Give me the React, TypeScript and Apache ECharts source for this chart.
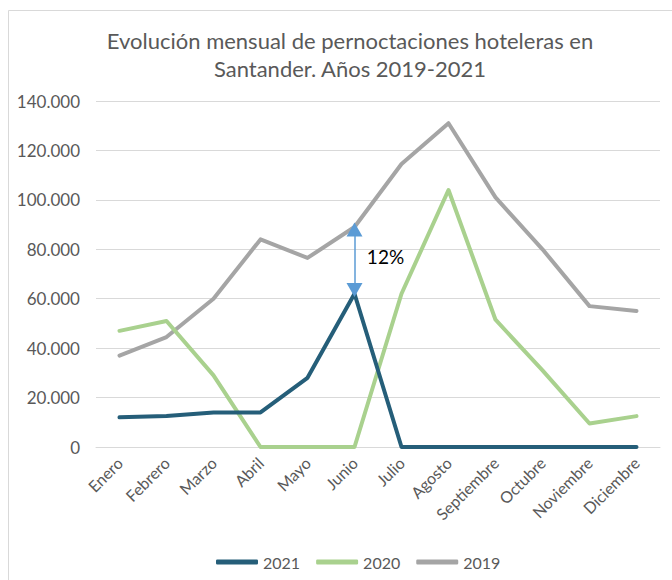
import React, { useEffect, useRef } from "react";
import * as echarts from "echarts";

const months = ["Enero", "Febrero", "Marzo", "Abril", "Mayo", "Junio", "Julio", "Agosto", "Septiembre", "Octubre", "Noviembre", "Diciembre"];
const s2021 = [12000, 12500, 14000, 14000, 28000, 62000, 0, 0, 0, 0, 0, 0];
const s2020 = [47000, 51000, 29000, 0, 0, 0, 62000, 104000, 51500, 31000, 9500, 12500];
const s2019 = [37000, 44500, 60000, 84000, 76500, 89000, 114500, 131000, 101000, 80000, 57000, 55000];
const yTicks = [0, 20000, 40000, 60000, 80000, 100000, 120000, 140000];
const arrowLabel = "12%";
const arrowMonth = "Junio";

const FONT = "Lato, 'Open Sans', sans-serif";
const GREY = "#595959";

function fmt(v: number) {
  return v === 0 ? "0" : String(v).replace(/\B(?=(\d{3})+(?!\d))/g, ".");
}

export default function App() {
  const ref = useRef<HTMLDivElement>(null);
  useEffect(() => {
    if (!ref.current) return;
    const chart = echarts.init(ref.current, null, { renderer: "svg" });
    const idx = months.indexOf(arrowMonth);
    const lo = s2021[idx];
    const hi = s2019[idx];
    chart.setOption({
      animation: false,
      backgroundColor: "#ffffff",
      textStyle: { fontFamily: FONT },
      graphic: [
        {
          type: "rect",
          shape: { x: 8.5, y: 10.5, width: 700, height: 600 },
          style: { fill: "none", stroke: "#D9D9D9", lineWidth: 1 },
          silent: true,
        },
      ],
      title: {
        text: "Evolución mensual de pernoctaciones hoteleras en\nSantander. Años 2019-2021",
        left: 345,
        top: 21,
        textAlign: "center",
        textStyle: { fontFamily: FONT, fontSize: 22, fontWeight: "normal", color: GREY, lineHeight: 28 },
      },
      grid: { left: 96, right: 12, top: 101, bottom: 133, containLabel: false },
      legend: {
        top: 549,
        left: 211,
        itemWidth: 42,
        itemHeight: 5,
        itemGap: 16,
        icon: "roundRect",
        textStyle: { fontFamily: FONT, fontSize: 16, color: GREY },
        data: ["2021", "2020", "2019"],
      },
      xAxis: {
        type: "category",
        data: months,
        boundaryGap: true,
        axisLine: { show: true, lineStyle: { color: "#D9D9D9", width: 1 } },
        axisTick: { show: false },
        axisLabel: { rotate: 45, fontFamily: FONT, fontSize: 16, color: GREY, margin: 13, interval: 0 },
      },
      yAxis: {
        type: "value",
        min: yTicks[0],
        max: yTicks[yTicks.length - 1],
        interval: yTicks[1] - yTicks[0],
        axisLine: { show: false },
        axisTick: { show: false },
        splitLine: { lineStyle: { color: "#D9D9D9", width: 1 } },
        axisLabel: { fontFamily: FONT, fontSize: 17, color: GREY, margin: 16, formatter: (v: number) => fmt(v) },
      },
      series: [
        {
          name: "2019",
          type: "line",
          data: s2019,
          symbol: "none",
          z: 1,
          lineStyle: { color: "#A5A5A5", width: 4, join: "round", cap: "round" },
          itemStyle: { color: "#A5A5A5" },
        },
        {
          name: "2020",
          type: "line",
          data: s2020,
          symbol: "none",
          z: 2,
          lineStyle: { color: "#A9D18E", width: 4, join: "round", cap: "round" },
          itemStyle: { color: "#A9D18E" },
        },
        {
          name: "2021",
          type: "line",
          data: s2021,
          symbol: "none",
          z: 3,
          lineStyle: { color: "#255E79", width: 4, join: "round", cap: "round" },
          itemStyle: { color: "#255E79" },
          markLine: {
            silent: true,
            symbol: ["triangle", "triangle"],
            symbolSize: [16, 14],
            label: { show: false },
            lineStyle: { color: "#5B9BD5", width: 1.5, type: "solid" },
            data: [[{ coord: [arrowMonth, lo + 1500] }, { coord: [arrowMonth, hi - 1000] }]],
          },
          markPoint: {
            silent: true,
            symbol: "circle",
            symbolSize: 0,
            label: {
              show: true,
              formatter: arrowLabel,
              fontFamily: FONT,
              fontSize: 19,
              color: "#000000",
              offset: [31, 0],
            },
            data: [{ coord: [arrowMonth, (lo + hi) / 2 + 1500] }],
          },
        },
      ],
    });
    return () => chart.dispose();
  }, []);
  return <div ref={ref} style={{ position: "fixed", left: 0, top: 0, width: 672, height: 580 }} />;
}
